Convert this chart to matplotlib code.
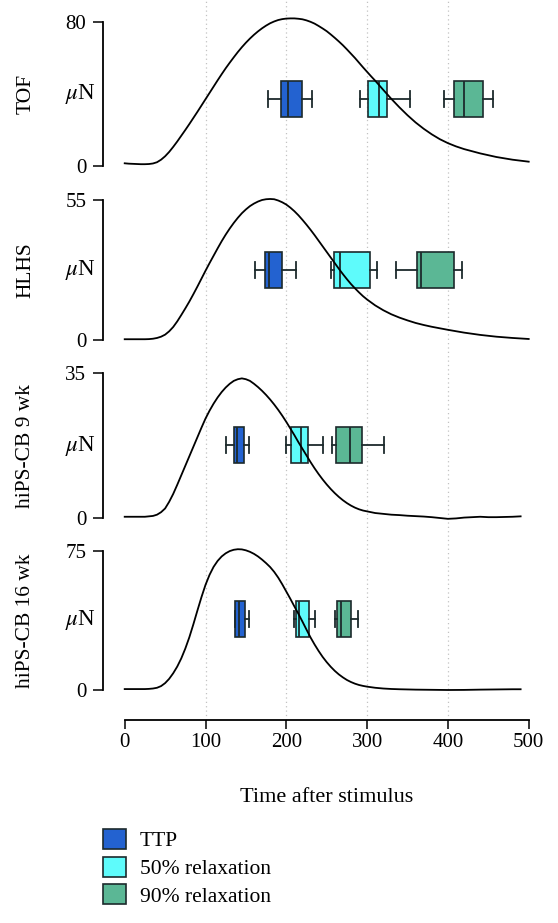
import numpy as np
import matplotlib
matplotlib.use('Agg')
import matplotlib.pyplot as plt
import matplotlib.transforms as mtransforms
from matplotlib.patches import Patch

plt.rcParams['font.family'] = ['Liberation Serif', 'DejaVu Serif']
plt.rcParams['mathtext.fontset'] = 'stix'

# ---- data ----
panel_names = ['TOF', 'HLHS', 'hiPS-CB 9 wk', 'hiPS-CB 16 wk']
y_tops = [80, 55, 35, 75]
x_ticks = [0, 100, 200, 300, 400, 500]
grid_x = [100, 200, 300, 400]

t_tof = [0, 5, 10, 15, 20, 25, 30, 35, 40, 45, 50, 55, 60, 65, 70, 75, 80, 85, 90, 95,
         100, 105, 110, 115, 120, 125, 130, 135, 140, 145, 150, 155, 160, 165, 170, 175, 180, 185,
         190, 195, 200, 205, 210, 215, 220, 225, 230, 235, 240, 245, 250, 255, 260, 265, 270, 275,
         280, 285, 290, 295, 300, 305, 310, 320, 330, 340, 350, 360, 370, 380, 390, 400, 410, 420,
         440, 460, 480, 500]
f_tof = [1.5, 1.3, 1.2, 1.1, 1.0, 1.0, 1.1, 1.4, 2.1, 3.5, 5.4, 7.8, 10.6, 13.6, 16.8, 20.0,
         23.3, 26.7, 30.1, 33.6, 37.1, 40.6, 44.1, 47.6, 51.0, 54.3, 57.4, 60.4, 63.3, 66.0, 68.5,
         70.8, 72.9, 74.8, 76.5, 78.0, 79.3, 80.3, 81.1, 81.6, 81.9, 82.0, 82.0, 81.8, 81.5, 80.9,
         80.1, 79.1, 77.8, 76.4, 74.9, 73.1, 71.2, 69.2, 67.1, 64.8, 62.4, 60.0, 57.4, 54.8, 52.3,
         49.8, 47.4, 42.3, 37.3, 32.6, 28.2, 24.2, 20.7, 17.6, 14.9, 12.7, 10.9, 9.4, 7.0, 5.0,
         3.5, 2.4]

t_hlhs = [0, 5, 10, 15, 20, 25, 30, 35, 40, 45, 50, 55, 60, 65, 70, 75, 80, 85, 90, 95,
          100, 105, 110, 115, 120, 125, 130, 135, 140, 145, 150, 155, 160, 165, 170, 175, 180, 185,
          190, 195, 200, 205, 210, 215, 220, 225, 230, 235, 240, 245, 250, 255, 260, 265, 270, 275,
          280, 285, 290, 295, 300, 310, 320, 330, 340, 350, 360, 370, 380, 390, 400, 420, 440, 460,
          480, 500]
f_hlhs = [0.3, 0.3, 0.3, 0.3, 0.3, 0.3, 0.35, 0.5, 0.8, 1.3, 2.1, 3.4, 5.1, 7.3, 9.8, 12.4,
          15.1, 18.0, 21.0, 24.1, 27.2, 30.2, 33.1, 36.0, 38.8, 41.4, 43.8, 46.0, 48.0, 49.8, 51.3,
          52.6, 53.6, 54.4, 55.0, 55.3, 55.4, 55.3, 54.8, 54.1, 53.2, 52.0, 50.6, 49.0, 47.2, 45.3,
          43.3, 41.2, 39.0, 36.8, 34.6, 32.4, 30.2, 28.0, 25.9, 23.9, 22.0, 20.3, 18.7, 17.2, 15.9,
          13.6, 11.7, 10.1, 8.8, 7.7, 6.7, 5.9, 5.2, 4.6, 4.0, 2.9, 2.0, 1.3, 0.8, 0.4]

t_9wk = [0, 5, 10, 15, 20, 25, 30, 35, 40, 45, 50, 55, 60, 65, 70, 75, 80, 85, 90, 95,
         100, 105, 110, 115, 120, 125, 130, 135, 140, 145, 150, 155, 160, 165, 170, 175, 180, 185,
         190, 195, 200, 205, 210, 215, 220, 225, 230, 235, 240, 245, 250, 255, 260, 265, 270, 275,
         280, 285, 290, 295, 300, 310, 320, 330, 340, 350, 360, 370, 380, 390, 400, 410, 420, 430,
         440, 450, 460, 470, 480, 490]
f_9wk = [0.3, 0.3, 0.3, 0.3, 0.3, 0.3, 0.4, 0.5, 0.8, 1.4, 2.3, 3.9, 5.8, 8.0, 10.3, 12.6,
         14.9, 17.2, 19.5, 21.8, 24.0, 25.9, 27.6, 29.1, 30.4, 31.5, 32.4, 33.1, 33.5, 33.7, 33.5,
         33.1, 32.4, 31.6, 30.7, 29.7, 28.6, 27.4, 26.1, 24.7, 23.2, 21.6, 20.0, 18.3, 16.7, 15.1,
         13.5, 12.0, 10.6, 9.3, 8.1, 7.0, 6.0, 5.1, 4.3, 3.6, 3.0, 2.5, 2.1, 1.8, 1.6, 1.2, 1.0,
         0.8, 0.7, 0.55, 0.45, 0.35, 0.2, 0.0, -0.2, -0.1, 0.1, 0.2, 0.3, 0.2, 0.2, 0.25, 0.3, 0.4]

t_16wk = [0, 5, 10, 15, 20, 25, 30, 35, 40, 45, 50, 55, 60, 65, 70, 75, 80, 85, 90, 95,
          100, 105, 110, 115, 120, 125, 130, 135, 140, 145, 150, 155, 160, 165, 170, 175, 180, 185,
          190, 195, 200, 205, 210, 215, 220, 225, 230, 235, 240, 245, 250, 255, 260, 265, 270, 275,
          280, 285, 290, 295, 300, 310, 320, 330, 340, 350, 360, 380, 400, 420, 440, 460, 480, 490]
f_16wk = [0.5, 0.5, 0.5, 0.5, 0.5, 0.5, 0.6, 0.8, 1.2, 2.1, 3.7, 6.0, 9.0, 12.6, 17.0, 22.3,
          28.4, 35.4, 42.8, 50.0, 56.6, 62.0, 66.3, 69.5, 71.9, 73.6, 74.8, 75.5, 75.8, 75.7, 75.2,
          74.4, 73.3, 71.9, 70.2, 68.3, 66.2, 63.6, 60.5, 56.9, 53.0, 49.1, 45.0, 41.0, 36.8, 32.5,
          28.3, 24.5, 21.0, 17.8, 15.0, 12.5, 10.3, 8.4, 6.8, 5.4, 4.3, 3.4, 2.7, 2.2, 1.8, 1.2, 0.8,
          0.55, 0.4, 0.3, 0.2, 0.1, 0.0, 0.05, 0.2, 0.3, 0.4, 0.4]

# box stats: whisker low, q1, median, q3, whisker high  (TTP, 50%, 90%)
box_tof = [[177, 194, 202.5, 220, 232], [291, 301, 315, 325, 353], [395, 407, 420, 443, 456]]
box_hlhs = [[161, 174, 178.6, 195, 212], [255, 258.6, 267, 303.6, 312], [336, 362, 367, 407.6, 418]]
box_9wk = [[125, 135, 139.5, 148, 154], [200, 206, 218, 227, 245], [256, 261.4, 278.6, 293.6, 320.4]]
box_16wk = [[137, 137, 142, 148.8, 154], [209, 211.7, 215.6, 227.5, 235.5], [260.5, 263.2, 267.5, 279.5, 288.4]]

legend_labels = ['TTP', '50% relaxation', '90% relaxation']
box_colors = ['#2362D0', '#5EFBFB', '#5BB795']
edge_col = '#1c2a2c'

curves = [(t_tof, f_tof), (t_hlhs, f_hlhs), (t_9wk, f_9wk), (t_16wk, f_16wk)]
boxes = [box_tof, box_hlhs, box_9wk, box_16wk]

# ---- layout (pixels) ----
W, H = 558, 923
x0_px, x1_px = 124.7, 528.7
panel_px = [(22, 166), (200, 340), (373, 518), (550.7, 690)]  # (top tick, zero tick)
box_px = [(99, 36.6), (270, 36), (445, 35.4), (619.3, 36)]     # (centre, height)
axis_px = 720

fig = plt.figure(figsize=(W / 100, H / 100), dpi=100)

# dotted guide lines behind all panels
bg = fig.add_axes([x0_px / W, (H - axis_px) / H, (x1_px - x0_px) / W, axis_px / H])
bg.set_xlim(0, 500)
bg.axis('off')
for g in grid_x:
    bg.axvline(g, color='#c2c2c2', lw=0.9, ls=(0, (1, 2.5)), zorder=0)

for i, name in enumerate(panel_names):
    top_px, zero_px = panel_px[i]
    ytop = y_tops[i]
    ax = fig.add_axes([x0_px / W, (H - zero_px) / H, (x1_px - x0_px) / W, (zero_px - top_px) / H])
    ax.set_xlim(0, 500)
    ax.set_ylim(0, ytop)
    ax.patch.set_alpha(0)
    for s in ['top', 'right']:
        ax.spines[s].set_visible(False)
    ax.spines['left'].set_position(('outward', 21.4 * 0.72))
    ax.spines['left'].set_linewidth(1.3)
    ax.set_yticks([0, ytop])
    ax.tick_params(axis='y', length=7.2, width=1.1, pad=5, labelsize=15)

    if i < 3:
        ax.spines['bottom'].set_visible(False)
        ax.set_xticks([])
    else:
        ax.spines['bottom'].set_position(('outward', 30 * 0.72))
        ax.spines['bottom'].set_bounds(0, 500)
        ax.spines['bottom'].set_linewidth(1.3)
        ax.set_xticks(x_ticks)
        ax.tick_params(axis='x', length=6.7, width=1.1, pad=3, labelsize=15)

    t, f = curves[i]
    ax.plot(t, f, color='black', lw=1.3, clip_on=False, zorder=3)

    scale = ytop / (zero_px - top_px)
    pos = (zero_px - box_px[i][0]) * scale
    bw = box_px[i][1] * scale
    stats = [dict(whislo=b[0], q1=b[1], med=b[2], q3=b[3], whishi=b[4]) for b in boxes[i]]
    bp = ax.bxp(stats, positions=[pos] * 3, widths=bw, capwidths=bw * 0.45,
                orientation='horizontal', patch_artist=True, showfliers=False,
                boxprops=dict(edgecolor=edge_col, linewidth=1.2),
                medianprops=dict(color=edge_col, linewidth=1.3),
                whiskerprops=dict(color=edge_col, linewidth=1.3),
                capprops=dict(color=edge_col, linewidth=1.3),
                manage_ticks=False, zorder=2)
    for patch, c in zip(bp['boxes'], box_colors):
        patch.set_facecolor(c)
    ax.set_ylim(0, ytop)

    trans = mtransforms.blended_transform_factory(ax.transAxes, ax.transData)
    ax.text((96 - x0_px) / (x1_px - x0_px), ytop / 2, r'$\mu$N', transform=trans,
            ha='right', va='center', fontsize=16.5)

    mid_px = (top_px + zero_px) / 2
    fig.text(26 / W, 1 - mid_px / H, name, rotation=90, ha='center', va='center', fontsize=15.5)

fig.text((x0_px + x1_px) / 2 / W, 1 - 798 / H, 'Time after stimulus', ha='center', va='center',
         fontsize=16)

handles = [Patch(facecolor=c, edgecolor=edge_col, linewidth=1.2, label=l)
           for c, l in zip(box_colors, legend_labels)]
fig.legend(handles=handles, loc='upper left', bbox_to_anchor=(103 / W, 1 - 829 / H),
           frameon=False, fontsize=15.5, handlelength=1.05, handleheight=1.05,
           handletextpad=0.65, labelspacing=0.25, borderpad=0, borderaxespad=0)

fig.savefig('out.png', dpi=100)
